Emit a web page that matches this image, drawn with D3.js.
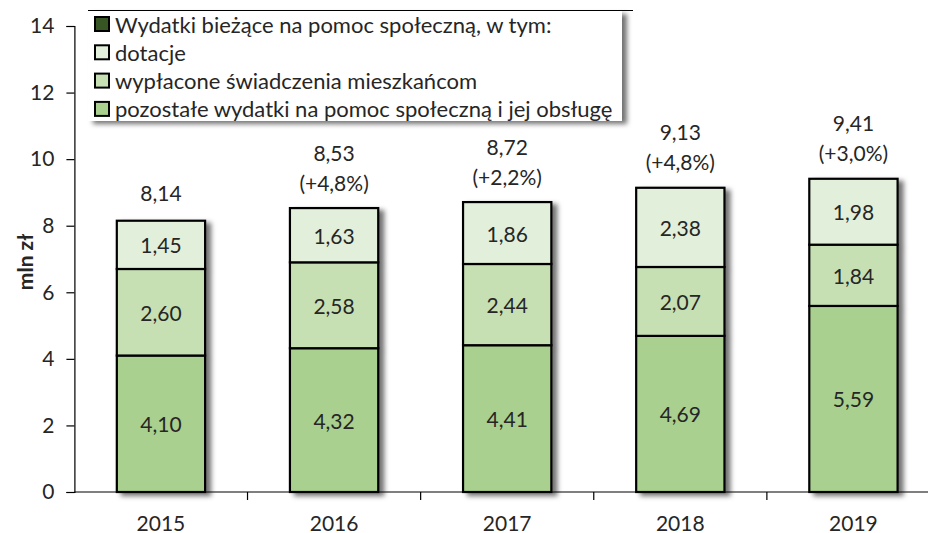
<!DOCTYPE html>
<html>
<head>
<meta charset="utf-8">
<script src="https://cdn.jsdelivr.net/npm/d3@7"></script>
<style>
  body { margin: 0; background: #fff; }
  svg { font-family: Lato, "Open Sans", sans-serif; }
</style>
</head>
<body>
<div id="vis"></div>
<script>
// data (mln zł)
var years = ["2015", "2016", "2017", "2018", "2019"];
var pozostale = [4.10, 4.32, 4.41, 4.69, 5.59];
var wyplacone = [2.60, 2.58, 2.44, 2.07, 1.84];
var dotacje = [1.45, 1.63, 1.86, 2.38, 1.98];
var totals = [8.14, 8.53, 8.72, 9.13, 9.41];
var changes = [null, 4.8, 2.2, 4.8, 3.0];
var yTicks = [0, 2, 4, 6, 8, 10, 12, 14];

var seriesColors = ["#a9d08e", "#c6e0b4", "#e2efda"];
var legendItems = [
  {label: "Wydatki bieżące na pomoc społeczną, w tym:", color: "#375623"},
  {label: "dotacje", color: "#e2efda"},
  {label: "wypłacone świadczenia mieszkańcom", color: "#c6e0b4"},
  {label: "pozostałe wydatki na pomoc społeczną i jej obsługę", color: "#a9d08e"}
];

var width = 928, height = 533;
var fmt = function(v) { return d3.format(".2f")(v).replace(".", ","); };
var fmtPct = function(v) { return "(+" + d3.format(".1f")(v).replace(".", ",") + "%)"; };
var textColor = "#262626";

var svg = d3.select("#vis").append("svg")
  .attr("width", width)
  .attr("height", height);

var defs = svg.append("defs");
defs.append("filter").attr("id", "shadow")
  .attr("x", "-20%").attr("y", "-20%").attr("width", "150%").attr("height", "150%")
  .append("feDropShadow")
  .attr("dx", 5).attr("dy", 3).attr("stdDeviation", 2.5)
  .attr("flood-color", "#000").attr("flood-opacity", 0.55);

var x = d3.scaleBand().domain(years).range([74.4, 940]).padding(0);
var y = d3.scaleLinear().domain([0, 14]).range([492, 26]);

var barW = x.bandwidth() * 0.51;
var barOff = (x.bandwidth() - barW) / 2;

// stacking
var rows = years.map(function(yr, i) {
  return {year: yr, s0: pozostale[i], s1: wyplacone[i], s2: dotacje[i]};
});
var stack = d3.stack().keys(["s0", "s1", "s2"])(rows);

// y axis
var yAxis = svg.append("g")
  .attr("transform", "translate(" + x.range()[0] + ",0)")
  .call(d3.axisLeft(y).tickValues(yTicks).tickSize(8).tickPadding(12).tickFormat(d3.format("d")));
yAxis.select(".domain").attr("stroke", "#000").attr("stroke-width", 1.2);
yAxis.selectAll(".tick line").attr("stroke", "#000").attr("stroke-width", 1.2);
yAxis.selectAll(".tick text").attr("font-size", 21).attr("fill", textColor)
  .style("font-family", "Lato, sans-serif");

svg.append("text")
  .attr("transform", "translate(24," + (y(7) + 3) + ") rotate(-90)")
  .attr("text-anchor", "middle")
  .attr("dominant-baseline", "central")
  .attr("font-size", 21)
  .attr("font-weight", "bold")
  .attr("fill", textColor)
  .text("mln zł");

// bars
var barGroups = svg.selectAll(".bar-group")
  .data(years)
  .enter().append("g")
  .attr("class", "bar-group")
  .attr("filter", "url(#shadow)");

barGroups.each(function(yr, i) {
  var g = d3.select(this);
  stack.forEach(function(layer, k) {
    var d = layer[i];
    g.append("rect")
      .attr("x", x(yr) + barOff)
      .attr("y", y(d[1]))
      .attr("width", barW)
      .attr("height", y(d[0]) - y(d[1]))
      .attr("fill", seriesColors[k])
      .attr("stroke", "#000")
      .attr("stroke-width", 2.2);
  });
});

// segment labels
stack.forEach(function(layer, k) {
  svg.selectAll(".seg" + k)
    .data(layer)
    .enter().append("text")
    .attr("x", function(d) { return x(d.data.year) + x.bandwidth() / 2; })
    .attr("y", function(d) { return (y(d[0]) + y(d[1])) / 2; })
    .attr("text-anchor", "middle")
    .attr("dominant-baseline", "central")
    .attr("font-size", 21)
    .attr("fill", textColor)
    .text(function(d) { return fmt(d[1] - d[0]); });
});

// totals above bars
years.forEach(function(yr, i) {
  var cx = x(yr) + x.bandwidth() / 2;
  var top = y(d3.sum([pozostale[i], wyplacone[i], dotacje[i]]));
  if (changes[i] === null) {
    svg.append("text").attr("x", cx).attr("y", top - 28)
      .attr("text-anchor", "middle").attr("dominant-baseline", "central")
      .attr("font-size", 21).attr("fill", textColor).text(fmt(totals[i]));
  } else {
    svg.append("text").attr("x", cx).attr("y", top - 56)
      .attr("text-anchor", "middle").attr("dominant-baseline", "central")
      .attr("font-size", 21).attr("fill", textColor).text(fmt(totals[i]));
    svg.append("text").attr("x", cx).attr("y", top - 26)
      .attr("text-anchor", "middle").attr("dominant-baseline", "central")
      .attr("font-size", 21).attr("fill", textColor).text(fmtPct(changes[i]));
  }
});

// x axis: line, ticks between categories, labels at centres
var xAxis = svg.append("g");
xAxis.append("line")
  .attr("x1", x.range()[0]).attr("x2", width)
  .attr("y1", y(0)).attr("y2", y(0))
  .attr("stroke", "#000").attr("stroke-width", 1.2);
xAxis.selectAll(".xtick")
  .data(years.slice(1))
  .enter().append("line")
  .attr("x1", function(d) { return x(d); }).attr("x2", function(d) { return x(d); })
  .attr("y1", y(0)).attr("y2", y(0) + 8)
  .attr("stroke", "#000").attr("stroke-width", 1.2);
xAxis.selectAll(".xlabel")
  .data(years)
  .enter().append("text")
  .attr("x", function(d) { return x(d) + x.bandwidth() / 2; })
  .attr("y", y(0) + 30)
  .attr("text-anchor", "middle")
  .attr("dominant-baseline", "central")
  .attr("font-size", 21)
  .attr("fill", textColor)
  .text(function(d) { return d; });

// legend
svg.append("line")
  .attr("x1", 88).attr("x2", 633).attr("y1", 10.5).attr("y2", 10.5)
  .attr("stroke", "#000").attr("stroke-width", 1.2);

var legend = svg.append("g");
legend.append("rect")
  .attr("x", 88).attr("y", 11).attr("width", 534).attr("height", 110)
  .attr("fill", "#fff")
  .attr("filter", "url(#shadow)");

var lg = legend.selectAll(".li")
  .data(legendItems)
  .enter().append("g")
  .attr("transform", function(d, i) { return "translate(0," + (24 + i * 28.3) + ")"; });
lg.append("rect")
  .attr("x", 95).attr("y", -7).attr("width", 14).attr("height", 14)
  .attr("fill", function(d) { return d.color; })
  .attr("stroke", "#000").attr("stroke-width", 2);
lg.append("text")
  .attr("x", 115).attr("y", 0)
  .attr("dominant-baseline", "central")
  .attr("font-size", 22)
  .attr("fill", textColor)
  .text(function(d) { return d.label; });
</script>
</body>
</html>
